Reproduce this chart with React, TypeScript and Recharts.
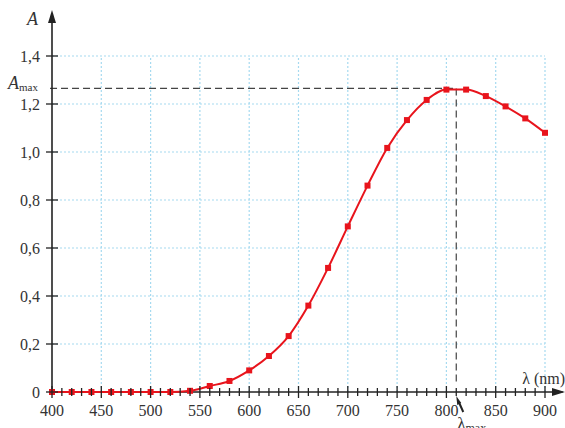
import { LineChart, Line, XAxis, YAxis, ReferenceLine, ReferenceDot } from 'recharts';

// wavelength (nm) and absorbance
const wavelengths = [400, 420, 440, 460, 480, 500, 520, 540, 560, 580, 600, 620, 640, 660, 680, 700, 720, 740, 760, 780, 800, 820, 840, 860, 880, 900];
const absorbance = [0, 0, 0, 0, 0, 0, 0, 0.005, 0.025, 0.046, 0.09, 0.15, 0.233, 0.36, 0.517, 0.69, 0.86, 1.017, 1.133, 1.217, 1.26, 1.26, 1.233, 1.19, 1.14, 1.08];

const xTicks = [400, 410, 420, 430, 440, 450, 460, 470, 480, 490, 500, 510, 520, 530, 540, 550, 560, 570, 580, 590, 600, 610, 620, 630, 640, 650, 660, 670, 680, 690, 700, 710, 720, 730, 740, 750, 760, 770, 780, 790, 800, 810, 820, 830, 840, 850, 860, 870, 880, 890, 900];
const xGrid = [450, 500, 550, 600, 650, 700, 750, 800, 850, 900];
const yTicks = [0, 0.2, 0.4, 0.6, 0.8, 1.0, 1.2, 1.4];
const yGrid = [0.2, 0.4, 0.6, 0.8, 1.0, 1.2, 1.4];

const aMax = 1.265;
const lambdaMax = 810;

const data = wavelengths.map((wl, i) => ({ wl, A: absorbance[i] }));

const FONT = '"Liberation Serif", "DejaVu Serif", serif';
const AXIS = '#222';
const GRID = '#a6daf0';
const RED = '#e8141c';

const fmt = (v: number) => (v === 0 ? '0' : v.toFixed(1).replace('.', ','));

function XTick(props: any) {
    const { x, y, payload } = props;
    const major = payload.value % 50 === 0;
    return (
        <g>
            <line x1={x} x2={x} y1={y - (major ? 6 : 4)} y2={y + (major ? 6 : 4)} stroke={AXIS} strokeWidth={1.3} />
            {major && (
                <text x={x} y={y + 24} textAnchor="middle" fontFamily={FONT} fontSize={16} fill="#333">
                    {payload.value}
                </text>
            )}
        </g>
    );
}

function YTick(props: any) {
    const { x, y, payload } = props;
    return (
        <g>
            <line x1={x - 6} x2={x + 6} y1={y} y2={y} stroke={AXIS} strokeWidth={1.3} />
            <text x={x - 12} y={y + 6} textAnchor="end" fontFamily={FONT} fontSize={16} fill="#333">
                {fmt(payload.value)}
            </text>
        </g>
    );
}

function SquareDot(props: any) {
    const { cx, cy } = props;
    return <rect x={cx - 3} y={cy - 3} width={6} height={6} fill={RED} />;
}

export default function App() {
    return (
        <div style={{ position: 'absolute', left: 0, top: 0, background: '#fff' }}>
            <LineChart width={565} height={428} data={data} margin={{ top: 56, right: 20, bottom: 6, left: 12 }}>
                <XAxis
                    dataKey="wl"
                    type="number"
                    domain={[400, 900]}
                    ticks={xTicks}
                    interval={0}
                    axisLine={false}
                    tickLine={false}
                    tickSize={0}
                    tickMargin={0}
                    height={30}
                    tick={<XTick />}
                />
                <YAxis
                    type="number"
                    domain={[0, 1.4]}
                    ticks={yTicks}
                    interval={0}
                    axisLine={false}
                    tickLine={false}
                    tickSize={0}
                    tickMargin={0}
                    width={40}
                    tick={<YTick />}
                />

                {/* dotted light blue grid */}
                {xGrid.map((v) => (
                    <ReferenceLine key={'gx' + v} x={v} stroke={GRID} strokeWidth={1.2} strokeDasharray="2 2" />
                ))}
                {yGrid.map((v) => (
                    <ReferenceLine key={'gy' + v} y={v} stroke={GRID} strokeWidth={1.2} strokeDasharray="2 2" />
                ))}

                {/* A max / lambda max guides */}
                <ReferenceLine
                    segment={[{ x: 398, y: aMax }, { x: lambdaMax, y: aMax }]}
                    stroke="#444"
                    strokeWidth={1.2}
                    strokeDasharray="7 4"
                    ifOverflow="visible"
                />
                <ReferenceLine
                    segment={[{ x: lambdaMax, y: aMax }, { x: lambdaMax, y: 0.03 }]}
                    stroke="#444"
                    strokeWidth={1.2}
                    strokeDasharray="7 4"
                    ifOverflow="visible"
                />

                {/* axes with arrows */}
                <ReferenceLine segment={[{ x: 400, y: 0 }, { x: 918, y: 0 }]} stroke={AXIS} strokeWidth={1.6} ifOverflow="visible" />
                <ReferenceLine segment={[{ x: 400, y: 0 }, { x: 400, y: 1.56 }]} stroke={AXIS} strokeWidth={1.6} ifOverflow="visible" />
                <ReferenceDot
                    x={400}
                    y={1.4}
                    ifOverflow="visible"
                    shape={(p: any) => (
                        <g>
                            <path d={`M${p.cx},${p.cy - 46} L${p.cx - 4},${p.cy - 33} L${p.cx + 4},${p.cy - 33} Z`} fill={AXIS} />
                            <text x={p.cx - 14} y={p.cy - 31} textAnchor="end" fontFamily={FONT} fontStyle="italic" fontSize={18} fill="#333">A</text>
                        </g>
                    )}
                />
                <ReferenceDot
                    x={900}
                    y={0}
                    ifOverflow="visible"
                    shape={(p: any) => (
                        <g>
                            <path d={`M${p.cx + 20},${p.cy} L${p.cx + 7},${p.cy - 4} L${p.cx + 7},${p.cy + 4} Z`} fill={AXIS} />
                            <text x={p.cx + 20} y={p.cy - 8} textAnchor="end" fontFamily={FONT} fontSize={16} fill="#333">λ (nm)</text>
                        </g>
                    )}
                />
                <ReferenceDot
                    x={400}
                    y={aMax}
                    ifOverflow="visible"
                    shape={(p: any) => (
                        <text x={p.cx - 44} y={p.cy + 1} fontFamily={FONT} fontSize={18} fill="#333">
                            <tspan fontStyle="italic">A</tspan>
                            <tspan fontSize={11} dy={2}>max</tspan>
                        </text>
                    )}
                />
                <ReferenceDot
                    x={lambdaMax}
                    y={0}
                    ifOverflow="visible"
                    shape={(p: any) => (
                        <g>
                            <path d={`M${p.cx + 7},${p.cy + 20} L${p.cx + 3},${p.cy + 11}`} stroke={AXIS} strokeWidth={2} />
                            <path d={`M${p.cx},${p.cy + 4} L${p.cx + 5},${p.cy + 11} L${p.cx + 1},${p.cy + 13} Z`} fill={AXIS} />
                            <text x={p.cx + 1} y={p.cy + 37} fontFamily={FONT} fontSize={17} fill="#333">
                                λ<tspan fontSize={12} dy={3}>max</tspan>
                            </text>
                        </g>
                    )}
                />

                <Line
                    type="monotone"
                    dataKey="A"
                    stroke={RED}
                    strokeWidth={2}
                    dot={<SquareDot />}
                    activeDot={false}
                    isAnimationActive={false}
                />
            </LineChart>
        </div>
    );
}
